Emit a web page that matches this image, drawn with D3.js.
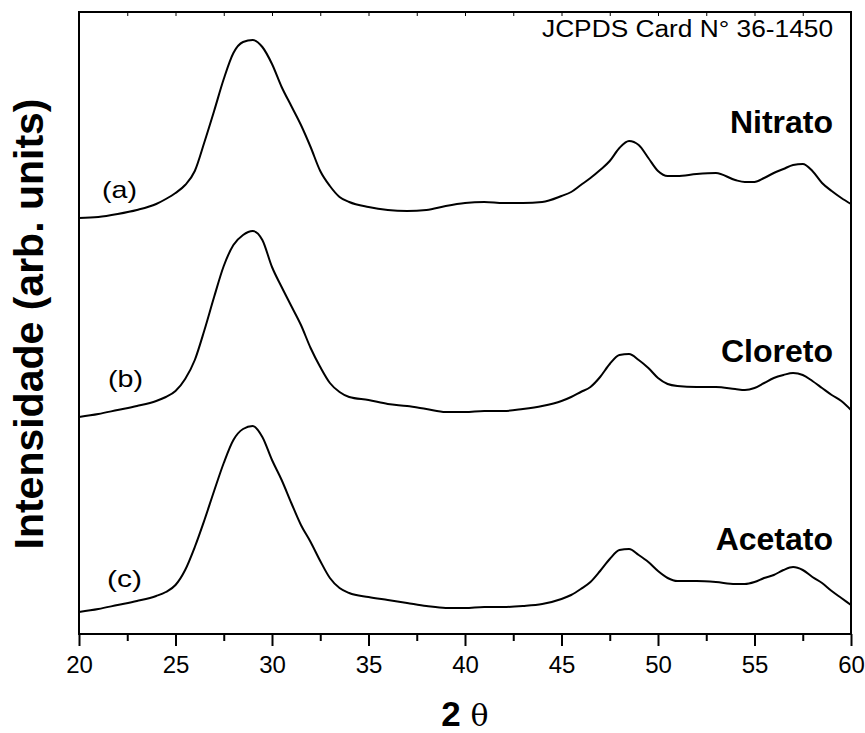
<!DOCTYPE html>
<html>
<head>
<meta charset="utf-8">
<script src="https://cdn.jsdelivr.net/npm/d3@7"></script>
<style>
  html, body { margin: 0; padding: 0; background: #fff; }
  svg { display: block; }
  text { font-family: "Liberation Sans", Arial, Helvetica, sans-serif; fill: #000; }
</style>
</head>
<body>
<svg id="chart" width="865" height="733"></svg>
<script>
// Diffraction angle (2θ, degrees) sampled for all three patterns
const twoTheta = [20, 21, 22, 23, 24, 24.5, 25, 25.5, 26, 26.5, 27, 27.5, 28, 28.5, 29, 29.5,
  30, 30.5, 31, 31.5, 32, 32.5, 33, 33.5, 34, 35, 36, 37, 38, 39, 40, 41, 42, 43, 44,
  45, 45.5, 46, 46.5, 47, 47.5, 48, 48.5, 49, 49.5, 50, 50.5, 51, 52, 53, 54, 54.5, 55,
  55.5, 56, 56.5, 57, 57.5, 58, 58.5, 59, 59.5, 60];

// Intensities (arb. units) for each precursor
const nitrato = [21, 22, 25, 29, 35, 40, 46, 54, 68, 97, 128, 160, 186, 197, 199, 192,
  175, 152, 133, 114, 92, 68, 53, 42, 37, 32, 29, 28, 29, 33, 36, 37, 36, 36, 37,
  43, 47, 54, 61, 69, 78, 91, 98, 94, 81, 68, 63, 63, 65, 66, 59, 57, 57,
  61, 66, 70, 74, 75, 68, 56, 48, 41, 35];
const cloreto = [22, 25, 29, 33, 38, 42, 48, 60, 79, 109, 142, 173, 194, 204, 208, 199,
  172, 152, 133, 114, 91, 72, 56, 47, 42, 39, 35, 33, 30, 27, 27, 28, 28, 30, 33,
  38, 42, 47, 52, 62, 75, 84, 85, 79, 71, 61, 55, 53, 52, 52, 50, 49, 51,
  56, 61, 64, 66, 64, 58, 51, 44, 38, 29];
const acetato = [22, 25, 29, 33, 38, 42, 49, 64, 87, 114, 143, 171, 194, 205, 208, 197,
  174, 154, 131, 109, 92, 73, 56, 46, 41, 37, 34, 31, 28, 26, 26, 27, 27, 28, 30,
  35, 39, 45, 52, 63, 75, 84, 85, 79, 72, 63, 56, 53, 53, 52, 50, 50, 52,
  56, 59, 64, 67, 64, 57, 51, 43, 36, 29];

// Series labels, curve tags and vertical stacking offsets
const seriesNames = ["Nitrato", "Cloreto", "Acetato"];
const seriesTags = ["(a)", "(b)", "(c)"];
const seriesOffsets = [395, 195, 0];
const seriesValues = [nitrato, cloreto, acetato];

// Axis ticks
const majorTicks = [20, 25, 30, 35, 40, 45, 50, 55, 60];
const minorTicks = [22.5, 27.5, 32.5, 37.5, 42.5, 47.5, 52.5, 57.5];
const tickLabels = ["20", "25", "30", "35", "40", "45", "50", "55", "60"];

const cardLabel = "JCPDS Card N° 36-1450";

const svg = d3.select("#chart");
const plotLeft = 79, plotRight = 851, plotTop = 12, plotBottom = 634;

const x = d3.scaleLinear().domain([20, 60]).range([plotLeft, plotRight]);
const y = d3.scaleLinear().domain([0, 622]).range([plotBottom, plotTop]);

// Patterns
const line = d3.line()
  .x(d => x(d[0]))
  .y(d => y(d[1]))
  .curve(d3.curveMonotoneX);

seriesValues.forEach((vals, i) => {
  const pts = twoTheta.map((t, k) => [t, vals[k] + seriesOffsets[i]]);
  svg.append("path")
    .datum(pts)
    .attr("d", line)
    .attr("fill", "none")
    .attr("stroke", "#000")
    .attr("stroke-width", 2)
    .attr("stroke-linejoin", "round");
});

// Frame
svg.append("rect")
  .attr("x", plotLeft).attr("y", plotTop)
  .attr("width", plotRight - plotLeft).attr("height", plotBottom - plotTop)
  .attr("fill", "none").attr("stroke", "#000").attr("stroke-width", 2);

// Bottom axis: major ticks with labels
const xAxis = d3.axisBottom(x)
  .tickValues(majorTicks)
  .tickSize(12)
  .tickPadding(10)
  .tickFormat((d, i) => tickLabels[i]);
const gx = svg.append("g").attr("transform", `translate(0,${plotBottom})`).call(xAxis);
gx.select(".domain").remove();
gx.selectAll(".tick line").attr("stroke", "#000").attr("stroke-width", 2);
gx.selectAll(".tick text")
  .attr("font-size", 24)
  .attr("font-family", "'Liberation Sans', Arial, sans-serif")
  .attr("fill", "#000");

// Bottom axis: minor ticks
const xMinor = d3.axisBottom(x).tickValues(minorTicks).tickSize(7).tickFormat("");
const gxm = svg.append("g").attr("transform", `translate(0,${plotBottom})`).call(xMinor);
gxm.select(".domain").remove();
gxm.selectAll(".tick line").attr("stroke", "#000").attr("stroke-width", 2);

// Top axis: short inward ticks
const xTop = d3.axisBottom(x)
  .tickValues(majorTicks.concat(minorTicks).filter(v => v > 20 && v < 60))
  .tickSize(4).tickFormat("");
const gxt = svg.append("g").attr("transform", `translate(0,${plotTop})`).call(xTop);
gxt.select(".domain").remove();
gxt.selectAll(".tick line").attr("stroke", "#000").attr("stroke-width", 1);

// Axis titles
const xTitle = svg.append("text")
  .attr("x", 465).attr("y", 726)
  .attr("text-anchor", "middle")
  .attr("font-size", 35);
xTitle.append("tspan").attr("font-weight", "bold").text("2 ");
xTitle.append("tspan").attr("font-family", "'DejaVu Serif', 'Liberation Serif', serif").attr("font-size", 30).text("θ");

svg.append("text")
  .attr("transform", "translate(43,324) rotate(-90)")
  .attr("text-anchor", "middle")
  .attr("font-size", 41)
  .attr("font-weight", "bold")
  .text("Intensidade (arb. units)");

// Card reference
svg.append("text")
  .attr("x", 542).attr("y", 37)
  .attr("font-size", 23)
  .attr("textLength", 291)
  .attr("lengthAdjust", "spacingAndGlyphs")
  .text(cardLabel);

// Series names (right) and tags (left)
const nameBaselines = [133, 362, 550];
seriesNames.forEach((n, i) => {
  svg.append("text")
    .attr("x", 833).attr("y", nameBaselines[i])
    .attr("text-anchor", "end")
    .attr("font-size", 32)
    .attr("font-weight", "bold")
    .text(n);
});

const tagPos = [[102, 198], [108, 387], [107, 587]];
seriesTags.forEach((t, i) => {
  svg.append("text")
    .attr("x", tagPos[i][0]).attr("y", tagPos[i][1])
    .attr("font-size", 24)
    .attr("textLength", 35)
    .attr("lengthAdjust", "spacingAndGlyphs")
    .text(t);
});
</script>
</body>
</html>
